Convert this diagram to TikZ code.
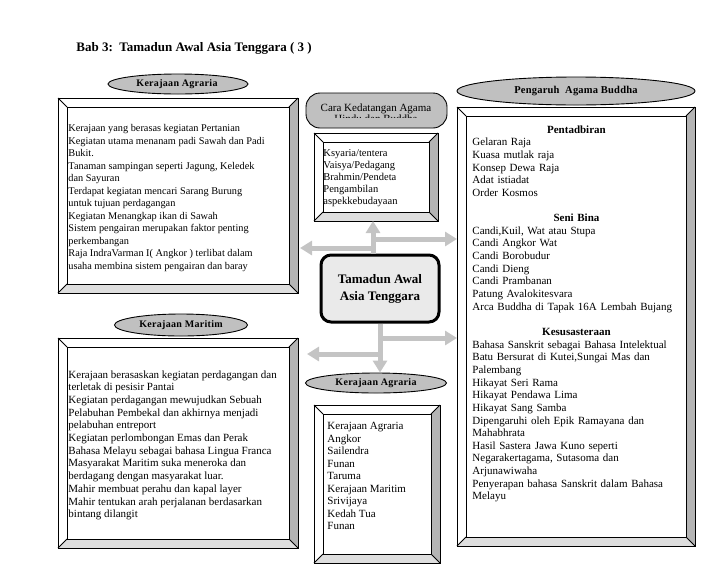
\documentclass[tikz,border=0pt]{standalone}
\usepackage{fontspec}
\setmainfont{Liberation Serif}
\usetikzlibrary{arrows.meta,shapes.geometric,positioning}

\definecolor{ovalgray}{RGB}{192,192,192}
\definecolor{bevdark}{RGB}{180,180,180}
\definecolor{bevlight}{RGB}{222,222,222}
\definecolor{arrowgray}{RGB}{196,196,196}
\definecolor{hubfill}{RGB}{234,234,234}

% bevel frame round an (empty) panel node
\newcommand{\bevelframe}[1]{%
  \coordinate (#1-nw) at ([shift={(9,-9)}]#1.north west);
  \coordinate (#1-ne) at ([shift={(-9,-9)}]#1.north east);
  \coordinate (#1-se) at ([shift={(-9,9)}]#1.south east);
  \coordinate (#1-sw) at ([shift={(9,9)}]#1.south west);
  \fill[bevdark] (#1.north east) -- (#1.south east) -- (#1-se) -- (#1-ne) -- cycle;
  \fill[bevlight] (#1.south west) -- (#1.south east) -- (#1-se) -- (#1-sw) -- cycle;
  \draw (#1.north west) rectangle (#1.south east);
  \draw (#1-nw) rectangle (#1-se);
  \draw (#1.north west) -- (#1-nw) (#1.north east) -- (#1-ne)
        (#1.south east) -- (#1-se) (#1.south west) -- (#1-sw);
}

\begin{document}
\begin{tikzpicture}[x = 1pt, y = 1pt, line width = 0.9pt,
    panel/.style = {rectangle, outer sep = 0pt, inner sep = 0pt, anchor = north west},
    oval/.style = {ellipse, draw, fill = ovalgray, inner sep = 0pt},
    tag/.style = {inner sep = 0pt, font = \bfseries\fontsize{10}{12}\selectfont\addfontfeature{LetterSpace=3}},
    body/.style = {anchor = north west, align = left, inner sep = 0pt,
                   font = \fontsize{11}{12.5}\selectfont},
    hub/.style = {rectangle, draw, rounded corners = 10pt, line width = 3pt,
                  fill = hubfill, minimum width = 118pt, minimum height = 67pt,
                  align = center, font = \bfseries\fontsize{13}{17}\selectfont},
    flow/.style = {arrowgray, line width = 5pt, -{Triangle[length = 12pt, width = 14pt]}}]
  \useasboundingbox (0, 0) rectangle (728, -563);

  \node [anchor = west, inner sep = 0pt, font = \bfseries\fontsize{13}{15}\selectfont]
    (title) at (76, -48) {Bab 3:\ \ Tamadun Awal Asia Tenggara ( 3 )};

  % panels
  \node [panel, minimum width = 240pt, minimum height = 195pt] (agrbox) at (58, -98) {};
  \node [panel, minimum width = 124pt, minimum height = 88pt] (carabox) at (314, -133) {};
  \node [panel, minimum width = 238pt, minimum height = 439pt] (buddbox) at (457, -107) {};
  \node [panel, minimum width = 240pt, minimum height = 210pt] (marbox) at (58, -338) {};
  \node [panel, minimum width = 126pt, minimum height = 158pt] (kerbox) at (314, -405) {};
  \bevelframe{agrbox}
  \bevelframe{carabox}
  \bevelframe{buddbox}
  \bevelframe{marbox}
  \bevelframe{kerbox}

  % labels over the panels
  \node [oval, minimum width = 140pt, minimum height = 20pt] (agrtag) at (178, -84) {};
  \node [oval, minimum width = 133pt, minimum height = 22pt] (martag) at (181, -325) {};
  \node [oval, minimum width = 141pt, minimum height = 20pt] (kertag) at (376, -383) {};
  \node [oval, minimum width = 238pt, minimum height = 28pt] (buddtag) at (576, -91) {};
  \node [rectangle, draw, fill = ovalgray, rounded corners = 14pt,
         minimum width = 141pt, minimum height = 35pt] (caratag) at (376.5, -110.5) {};

  \begin{scope}
    \clip (100, -70) rectangle (260, -88);
    \node [tag] (agrname) at (177, -84) {Kerajaan Agraria};
  \end{scope}
  \begin{scope}
    \clip (100, -310) rectangle (260, -329);
    \node [tag] (marname) at (181, -325) {Kerajaan Maritim};
  \end{scope}
  \begin{scope}
    \clip (300, -370) rectangle (450, -387);
    \node [tag] (kername) at (376, -383) {Kerajaan Agraria};
  \end{scope}
  \node [tag, font = \bfseries\fontsize{10.5}{12}\selectfont\addfontfeature{LetterSpace=2}]
    (buddname) at (576, -91) {Pengaruh\ \ Agama Buddha};
  \begin{scope}
    \clip (300, -95) rectangle (450, -117.5);
    \node [align = center, inner sep = 0pt, font = \fontsize{11}{11}\selectfont]
      (caraname) at (376, -113) {Cara Kedatangan Agama\\Hindu dan Buddha};
  \end{scope}

  % panel texts
  \node [body, font = \fontsize{10.3}{12.5}\selectfont] (agrtext) at (68, -124) {%
    Kerajaan yang berasas kegiatan Pertanian\\
    Kegiatan utama menanam padi Sawah dan Padi\\
    Bukit.\\
    Tanaman sampingan seperti Jagung, Keledek\\
    dan Sayuran\\
    Terdapat kegiatan mencari Sarang Burung\\
    untuk tujuan perdagangan\\
    Kegiatan Menangkap ikan di Sawah\\
    Sistem pengairan merupakan faktor penting\\
    perkembangan\\
    Raja IndraVarman I( Angkor ) terlibat dalam\\
    usaha membina sistem pengairan dan baray};

  \node [body, font = \fontsize{10.5}{12}\selectfont] (caratext) at (323, -149) {%
    Ksyaria/tentera\\
    Vaisya/Pedagang\\
    Brahmin/Pendeta\\
    Pengambilan\\
    aspekkebudayaan};

  \node [body, text width = 208pt, font = \fontsize{11}{12.65}\selectfont] (buddtext) at (472, -125) {%
    \makebox[\hsize]{\textbf{Pentadbiran}}\\
    Gelaran Raja\\
    Kuasa mutlak raja\\
    Konsep Dewa Raja\\
    Adat istiadat\\
    Order Kosmos\\[12.65pt]
    \makebox[\hsize]{\textbf{Seni Bina}}\\
    Candi,Kuil, Wat atau Stupa\\
    Candi Angkor Wat\\
    Candi Borobudur\\
    Candi Dieng\\
    Candi Prambanan\\
    Patung Avalokitesvara\\
    Arca Buddha di Tapak 16A Lembah Bujang\\[12.65pt]
    \makebox[\hsize]{\textbf{Kesusasteraan}}\\
    Bahasa Sanskrit sebagai Bahasa Intelektual\\
    Batu Bersurat di Kutei,Sungai Mas dan\\
    Palembang\\
    Hikayat Seri Rama\\
    Hikayat Pendawa Lima\\
    Hikayat Sang Samba\\
    Dipengaruhi oleh Epik Ramayana dan\\
    Mahabhrata\\
    Hasil Sastera Jawa Kuno seperti\\
    Negarakertagama, Sutasoma dan\\
    Arjunawiwaha\\
    Penyerapan bahasa Sanskrit dalam Bahasa\\
    Melayu};

  \node [body, font = \fontsize{11}{12.7}\selectfont] (martext) at (68, -370) {%
    Kerajaan berasaskan kegiatan perdagangan dan\\
    terletak di pesisir Pantai\\
    Kegiatan perdagangan mewujudkan Sebuah\\
    Pelabuhan Pembekal dan akhirnya menjadi\\
    pelabuhan entreport\\
    Kegiatan perlombongan Emas dan Perak\\
    Bahasa Melayu sebagai bahasa Lingua Franca\\
    Masyarakat Maritim suka meneroka dan\\
    berdagang dengan masyarakat luar.\\
    Mahir membuat perahu dan kapal layer\\
    Mahir tentukan arah perjalanan berdasarkan\\
    bintang dilangit};

  \node [body] (kertext) at (327, -422) {%
    Kerajaan Agraria\\
    Angkor\\
    Sailendra\\
    Funan\\
    Taruma\\
    Kerajaan Maritim\\
    Srivijaya\\
    Kedah Tua\\
    Funan};

  % centre
  \node [hub] (hub) at (380, -288.5) {Tamadun Awal\\Asia Tenggara};

  \coordinate (upjoint) at ([xshift = -7pt]hub.north);
  \coordinate (upright) at (373, -239);
  \coordinate (upleft) at (373, -248);
  \coordinate (downright) at (380, -338);
  \coordinate (downleft) at (380, -354);

  \draw [flow] (upjoint) -- (carabox.south -| upjoint);
  \draw [flow] (upright) -- (buddbox.west |- upright);
  \draw [flow] (upleft) -- ([xshift = 2pt]agrbox.east |- upleft);
  \draw [flow] (hub.south) -- (kertag.north -| hub.south);
  \draw [flow] (downright) -- (buddbox.west |- downright);
  \draw [flow] (downleft) -- ([xshift = 9pt]marbox.east |- downleft);
\end{tikzpicture}
\end{document}
